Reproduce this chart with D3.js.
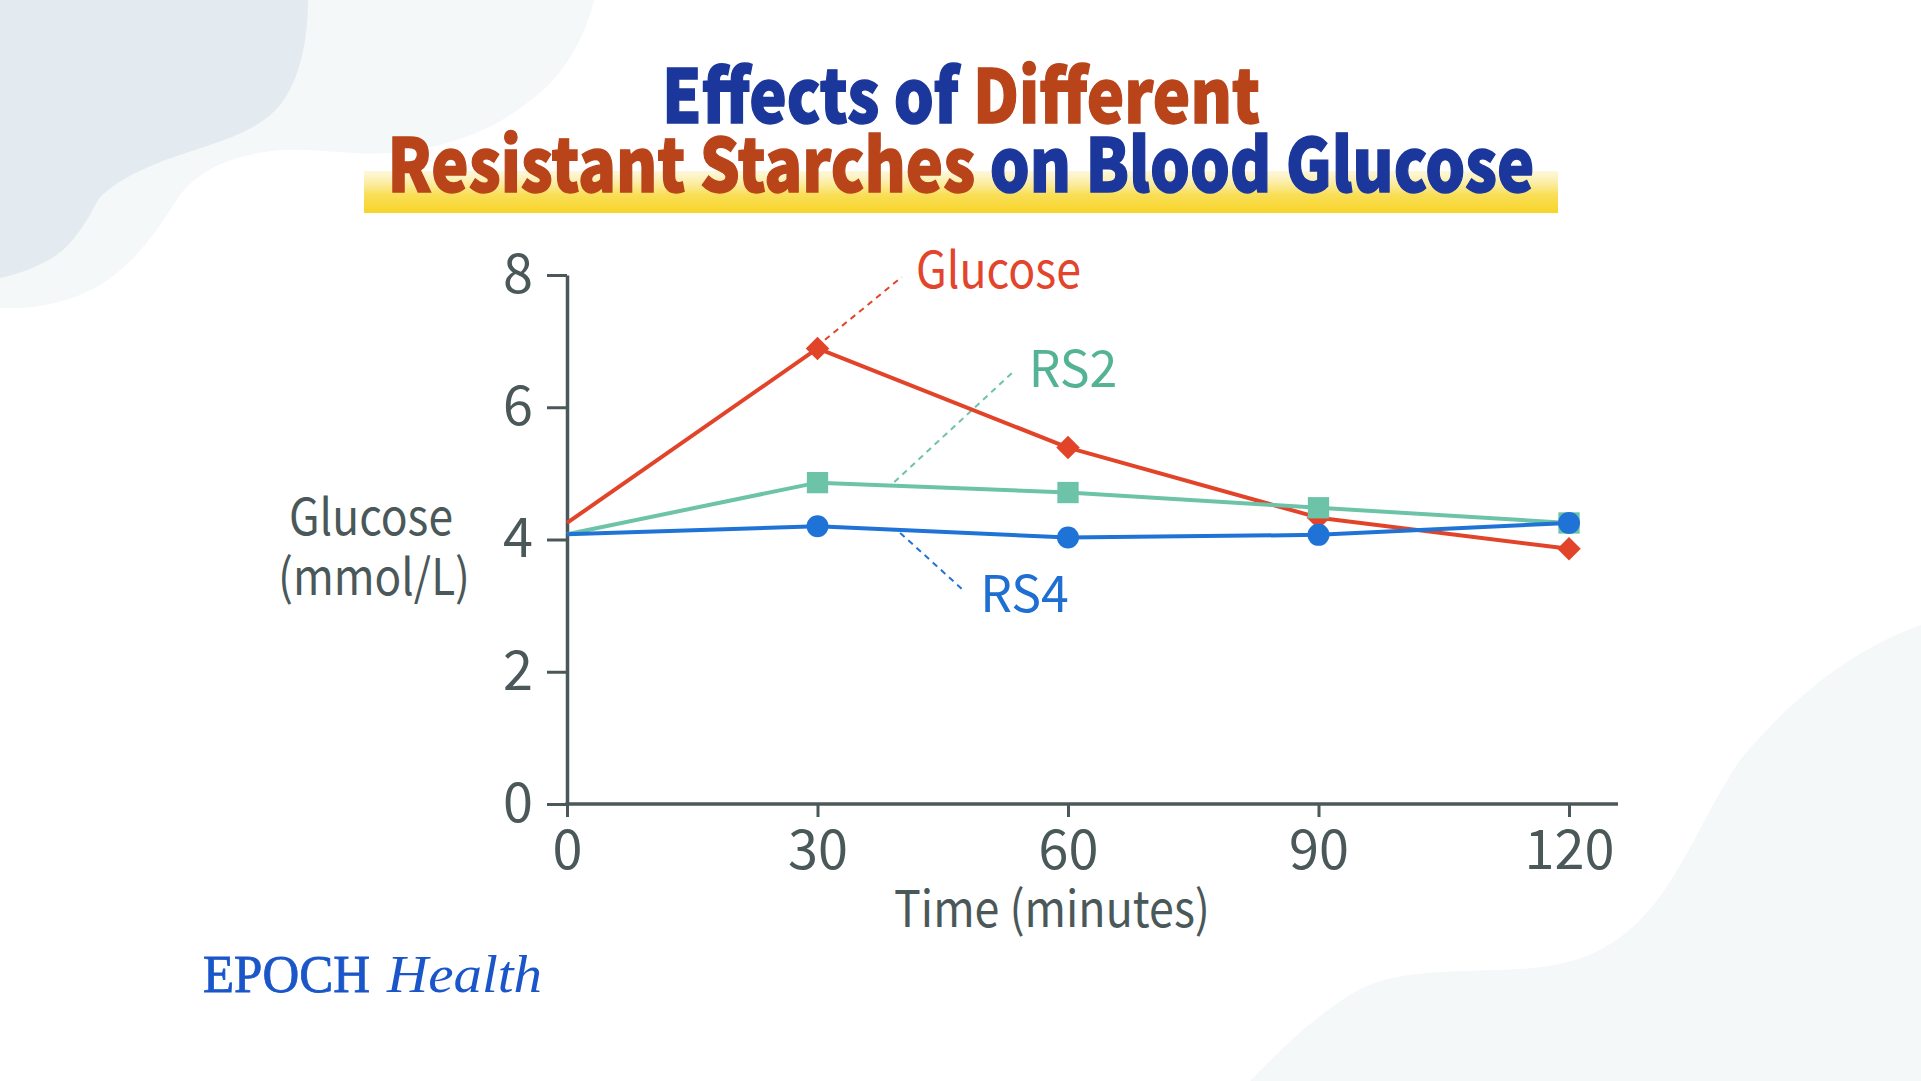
<!DOCTYPE html>
<html>
<head>
<meta charset="utf-8">
<script src="https://cdn.jsdelivr.net/npm/d3@7"></script>
<style>
  html, body { margin: 0; padding: 0; background: #ffffff; }
  svg { display: block; }
</style>
</head>
<body>
<svg id="chart" width="1921" height="1081"></svg>
<script>
// ---------------- data ----------------
const times = [0, 30, 60, 90, 120];
const glucose = [4.25, 6.89, 5.39, 4.33, 3.86];
const rs2 = [4.08, 4.86, 4.71, 4.48, 4.25];
const rs4 = [4.08, 4.20, 4.03, 4.07, 4.25];
const yTicks = [0, 2, 4, 6, 8];
const xTickLabels = ["0", "30", "60", "90", "120"];
const seriesNames = ["Glucose", "RS2", "RS4"];
const titleLine1 = [["Effects of ", "blue"], ["Different", "rust"]];
const titleLine2 = [["Resistant Starches", "rust"], [" on Blood Glucose", "blue"]];
const yTitle = ["Glucose", "(mmol/L)"];
const xTitle = "Time (minutes)";
// label anchor (time, value) and leader line (time,value)->(time,value), in data space
const labelAnchors = [[41.8, 7.80], [55.3, 6.31], [49.5, 2.90]];
const leaders = [[[30.9, 7.02], [40.1, 7.97]], [[39.2, 4.87], [53.4, 6.53]], [[39.9, 4.10], [47.4, 3.24]]];

// ---------------- styles ----------------
const FONT = "'Noto Sans CJK SC', 'Source Sans Pro', 'Noto Sans', sans-serif";
const AXIS = "#4a5859";
const colors = {
  line: ["#e2442a", "#6cc3a8", "#1f73d6"],
  label: ["#e2452b", "#55b395", "#1e6fd1"]
};
const titleColors = { blue: "#1b379b", rust: "#b9441a" };
const markerTypes = [d3.symbolDiamond2, d3.symbolSquare2, d3.symbolCircle];
const markerSizes = [352, 578, 380];
const labelWidths = [165, null, null];

const svg = d3.select("#chart");

// ---------------- background blobs ----------------
const bg = svg.append("g");
bg.append("path")
  .attr("d", "M0,0 L594,0 C585,40 560,80 531,100 C500,125 460,145 400,152 C360,157 320,148 280,150 C230,155 200,170 180,195 C160,225 140,260 100,285 C70,303 30,310 0,308 Z")
  .attr("fill", "#f5f8f9");
bg.append("path")
  .attr("d", "M0,0 L308,0 C308,40 300,80 280,105 C260,130 225,140 180,155 C140,168 110,185 98,200 C85,225 70,250 45,262 C25,272 10,276 0,278 Z")
  .attr("fill", "#e3ebf0");
bg.append("path")
  .attr("d", "M1921,625 C1850,650 1790,700 1740,760 C1700,820 1680,880 1640,920 C1600,960 1560,968 1500,970 C1440,972 1390,970 1350,995 C1310,1020 1280,1050 1250,1081 L1921,1081 Z")
  .attr("fill", "#f5f8f9");

// ---------------- title ----------------
const defs = svg.append("defs");
const grad = defs.append("linearGradient").attr("id", "band").attr("x1", 0).attr("y1", 0).attr("x2", 0).attr("y2", 1);
grad.append("stop").attr("offset", "0%").attr("stop-color", "#fdf3c4").attr("stop-opacity", 0.6);
grad.append("stop").attr("offset", "55%").attr("stop-color", "#f9df5a");
grad.append("stop").attr("offset", "100%").attr("stop-color", "#f8d428");
svg.append("rect").attr("x", 364).attr("y", 171).attr("width", 1194).attr("height", 42).attr("fill", "url(#band)");

function titleLine(parts, y, len) {
  const t = svg.append("text")
    .attr("x", 961).attr("y", y)
    .attr("text-anchor", "middle")
    .attr("font-family", FONT)
    .attr("font-weight", 900)
    .attr("font-size", 74)
    .attr("textLength", len)
    .attr("lengthAdjust", "spacingAndGlyphs");
  parts.forEach(([s, c]) => t.append("tspan")
    .attr("fill", titleColors[c]).attr("stroke", titleColors[c]).attr("stroke-width", 1.4)
    .text(s));
}
titleLine(titleLine1, 123, 598);
titleLine(titleLine2, 192, 1147);

// ---------------- scales ----------------
const x = d3.scaleLinear().domain([0, 120]).range([567, 1569]);
const y = d3.scaleLinear().domain([0, 8]).range([804, 275]);
const xAxisExtend = 49;

// axes
const gy = svg.append("g").attr("transform", `translate(${x(0)},0)`)
  .call(d3.axisLeft(y).tickValues(yTicks).tickSize(20).tickSizeOuter(0).tickPadding(14).tickFormat(d3.format("d")));
const gx = svg.append("g").attr("transform", `translate(0,${y(0)})`)
  .call(d3.axisBottom(x).tickValues(times).tickSize(13).tickSizeOuter(0).tickPadding(14).tickFormat((d, i) => xTickLabels[i]));
gx.select(".domain").remove();
svg.append("line")
  .attr("x1", x(0) - 1.5).attr("x2", x.range()[1] + xAxisExtend)
  .attr("y1", y(0)).attr("y2", y(0))
  .attr("stroke", AXIS).attr("stroke-width", 3.5);
[gx, gy].forEach(g => {
  g.selectAll(".domain").attr("stroke", AXIS).attr("stroke-width", 3.5);
  g.selectAll(".tick line").attr("stroke", AXIS).attr("stroke-width", 3);
  g.selectAll(".tick text").attr("fill", AXIS).attr("font-family", FONT).attr("font-size", 54);
});

// axis titles
svg.append("text").attr("x", 371).attr("y", 535).attr("text-anchor", "middle")
  .attr("font-family", FONT).attr("font-size", 50).attr("fill", AXIS)
  .attr("textLength", 164).attr("lengthAdjust", "spacingAndGlyphs").text(yTitle[0]);
svg.append("text").attr("x", 374).attr("y", 595).attr("text-anchor", "middle")
  .attr("font-family", FONT).attr("font-size", 50).attr("fill", AXIS)
  .attr("textLength", 192).attr("lengthAdjust", "spacingAndGlyphs").text(yTitle[1]);
svg.append("text").attr("x", 1052).attr("y", 927).attr("text-anchor", "middle")
  .attr("font-family", FONT).attr("font-size", 50).attr("fill", AXIS)
  .attr("textLength", 316).attr("lengthAdjust", "spacingAndGlyphs").text(xTitle);

// ---------------- leader lines + labels ----------------
leaders.forEach((l, i) => {
  svg.append("line")
    .attr("x1", x(l[0][0])).attr("y1", y(l[0][1]))
    .attr("x2", x(l[1][0])).attr("y2", y(l[1][1]))
    .attr("stroke", colors.line[i]).attr("stroke-width", 2)
    .attr("stroke-dasharray", "6,5");
  const t = svg.append("text")
    .attr("x", x(labelAnchors[i][0])).attr("y", y(labelAnchors[i][1]))
    .attr("font-family", FONT).attr("font-size", 50)
    .attr("fill", colors.label[i]).text(seriesNames[i]);
  if (labelWidths[i]) t.attr("textLength", labelWidths[i]).attr("lengthAdjust", "spacingAndGlyphs");
});

// ---------------- series ----------------
const allSeries = [glucose, rs2, rs4];
const line = d3.line().x((d, i) => x(times[i])).y(d => y(d));
allSeries.forEach((vals, si) => {
  const g = svg.append("g");
  g.append("path").datum(vals).attr("d", line)
    .attr("fill", "none").attr("stroke", colors.line[si]).attr("stroke-width", 4)
    .attr("stroke-linejoin", "round");
  g.selectAll("path.m").data(vals).join("path").attr("class", "m")
    .attr("d", d3.symbol().type(markerTypes[si]).size(markerSizes[si]))
    .attr("transform", (d, i) => `translate(${x(times[i])},${y(d)})`)
    .attr("fill", colors.line[si])
    .style("display", (d, i) => i === 0 ? "none" : null);
});

// ---------------- logo ----------------
svg.append("text").attr("x", 203).attr("y", 992)
  .attr("font-family", "'Liberation Serif', 'DejaVu Serif', serif")
  .attr("font-size", 52).attr("fill", "#1a56c9").attr("stroke", "#1a56c9").attr("stroke-width", 0.8)
  .attr("textLength", 167).attr("lengthAdjust", "spacingAndGlyphs").text("EPOCH");
svg.append("text").attr("x", 387).attr("y", 992)
  .attr("font-family", "'Liberation Serif', 'DejaVu Serif', serif")
  .attr("font-style", "italic")
  .attr("font-size", 52).attr("fill", "#1a56c9")
  .attr("textLength", 155).attr("lengthAdjust", "spacingAndGlyphs").text("Health");
</script>
</body>
</html>
